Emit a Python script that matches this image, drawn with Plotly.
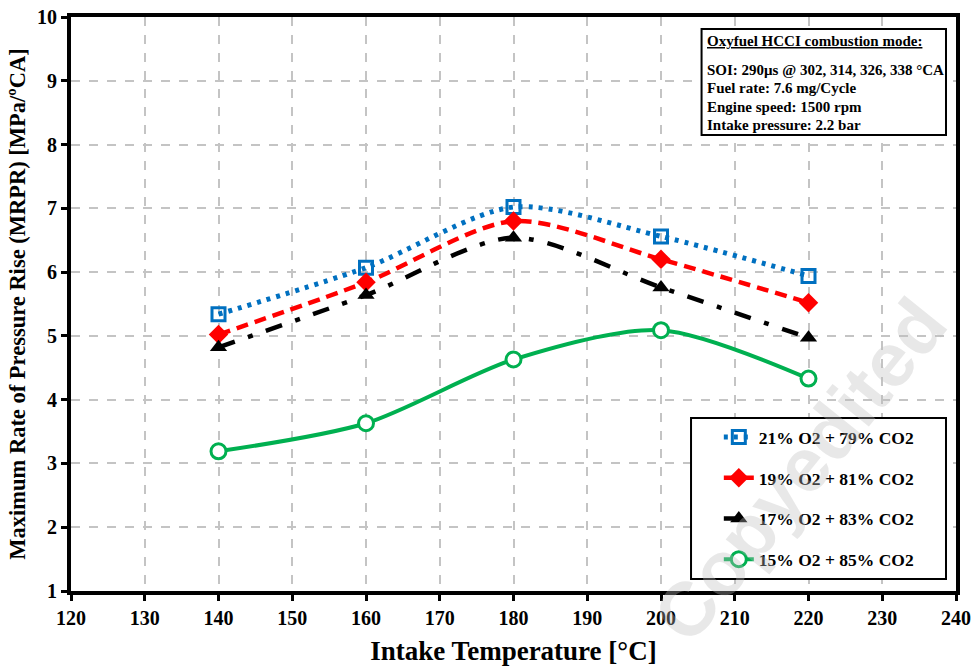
import plotly.graph_objects as go

temps = [140, 160, 180, 200, 220]
mrpr_21 = [5.34, 6.07, 7.02, 6.56, 5.94]
mrpr_19 = [5.02, 5.84, 6.80, 6.20, 5.52]
mrpr_17 = [4.82, 5.64, 6.54, 5.76, 4.97]
mrpr_15 = [3.19, 3.63, 4.63, 5.09, 4.33]

names = ["21% O2 + 79% CO2", "19% O2 + 81% CO2", "17% O2 + 83% CO2", "15% O2 + 85% CO2"]

x_ticks = [120, 130, 140, 150, 160, 170, 180, 190, 200, 210, 220, 230, 240]
y_ticks = [1, 2, 3, 4, 5, 6, 7, 8, 9, 10]

info_title = "Oxyfuel HCCI combustion mode:"
info_lines = ["SOI: 290μs @ 302, 314, 326, 338 °CA",
              "Fuel rate: 7.6 mg/Cycle",
              "Engine speed: 1500 rpm",
              "Intake pressure: 2.2 bar"]

FONT = "Liberation Serif, Times New Roman, serif"

fig = go.Figure()
fig.add_trace(go.Scatter(
    x=temps, y=mrpr_21, name=names[0], legendgroup="a", mode="lines+markers",
    line=dict(color="#0070C0", width=5, dash="4px,6px", shape="spline", smoothing=0.8),
    marker=dict(symbol="square-open", size=13, color="#0070C0", line=dict(width=3, color="#0070C0")),
))
fig.add_trace(go.Scatter(
    x=temps, y=mrpr_19, name=names[1], legendgroup="b", mode="lines+markers",
    line=dict(color="#FF0000", width=4.5, dash="12px,7px", shape="spline", smoothing=0.8),
    marker=dict(symbol="diamond", size=15, color="#FF0000"),
))
fig.add_trace(go.Scatter(
    x=temps, y=mrpr_17, name=names[2], legendgroup="c", mode="lines+markers",
    line=dict(color="#000000", width=4.5, dash="17px,14px,5px,14px", shape="spline", smoothing=0.8),
    marker=dict(symbol="triangle-up", size=15, color="#000000"),
))
fig.add_trace(go.Scatter(
    x=temps, y=mrpr_15, name=names[3], legendgroup="d", mode="lines+markers",
    line=dict(color="#00B050", width=4, shape="spline", smoothing=0.8),
    marker=dict(symbol="circle", size=15, color="white", line=dict(width=3, color="#00B050")),
))

axis_common = dict(
    showline=True, linecolor="black", linewidth=4, mirror=True,
    showgrid=True, gridcolor="#C4C4C4", griddash="dash", gridwidth=1.5,
    ticks="outside", ticklen=6, tickwidth=3, tickcolor="black",
    zeroline=False, automargin=False,
    tickfont=dict(family=FONT, size=20, color="black", weight="bold"),
)

fig.update_xaxes(
    range=[120, 240], tickvals=x_ticks, ticktext=[f"<b>{v}</b>" for v in x_ticks], **axis_common,
    title=dict(text="<b>Intake Temperature [°C]</b>", font=dict(family=FONT, size=27, color="black"), standoff=14),
)
fig.update_yaxes(
    range=[1, 10], tickvals=y_ticks, ticktext=[f"<b>{v}</b>" for v in y_ticks], **axis_common,
    title=dict(text="<b>Maximum Rate of Pressure Rise (MRPR) [MPa/ºCA]</b>", font=dict(family=FONT, size=22.5, color="black"), standoff=6),
)

# info box
fig.add_shape(type="rect", xref="paper", yref="paper", x0=0.7125, x1=0.9887, y0=0.7944, y1=0.9791,
              line=dict(color="black", width=2), fillcolor="white", layer="above")
fig.add_annotation(
    xref="paper", yref="paper", x=0.7165, y=0.9582, xanchor="left", yanchor="middle",
    align="left", showarrow=False, text=f"<b><u>{info_title}</u></b>",
    font=dict(family=FONT, size=15, color="black"),
)
line_y = [0.9085, 0.8763, 0.8432, 0.8118]
for txt, yy in zip(info_lines, line_y):
    fig.add_annotation(
        xref="paper", yref="paper", x=0.7165, y=yy, xanchor="left", yanchor="middle",
        align="left", showarrow=False, text=f"<b>{txt}</b>",
        font=dict(family=FONT, size=15, color="black"),
    )

# legend box
fig.add_shape(type="rect", xref="paper", yref="paper", x0=0.7006, x1=0.9887, y0=0.0209, y1=0.3014,
              line=dict(color="black", width=2), fillcolor="white", layer="above")

# watermark
fig.add_annotation(
    xref="paper", yref="paper", x=0.824, y=0.211, xanchor="center", yanchor="middle",
    showarrow=False, textangle=-51,
    text="<b>Copyedited</b>", font=dict(family="Liberation Sans, Arial, sans-serif", size=76, color="rgba(190,190,190,0.35)"),
)

fig.update_layout(
    width=974, height=667,
    margin=dict(l=71, r=18, t=17, b=76),
    plot_bgcolor="white", paper_bgcolor="white",
    legend=dict(
        x=0.732, y=0.2995, xanchor="left", yanchor="top",
        bgcolor="rgba(0,0,0,0)", borderwidth=0,
        font=dict(family=FONT, size=17.5, color="black", weight="bold"),
        tracegroupgap=15, itemwidth=30,
    ),
)

fig.write_html("out.html")
